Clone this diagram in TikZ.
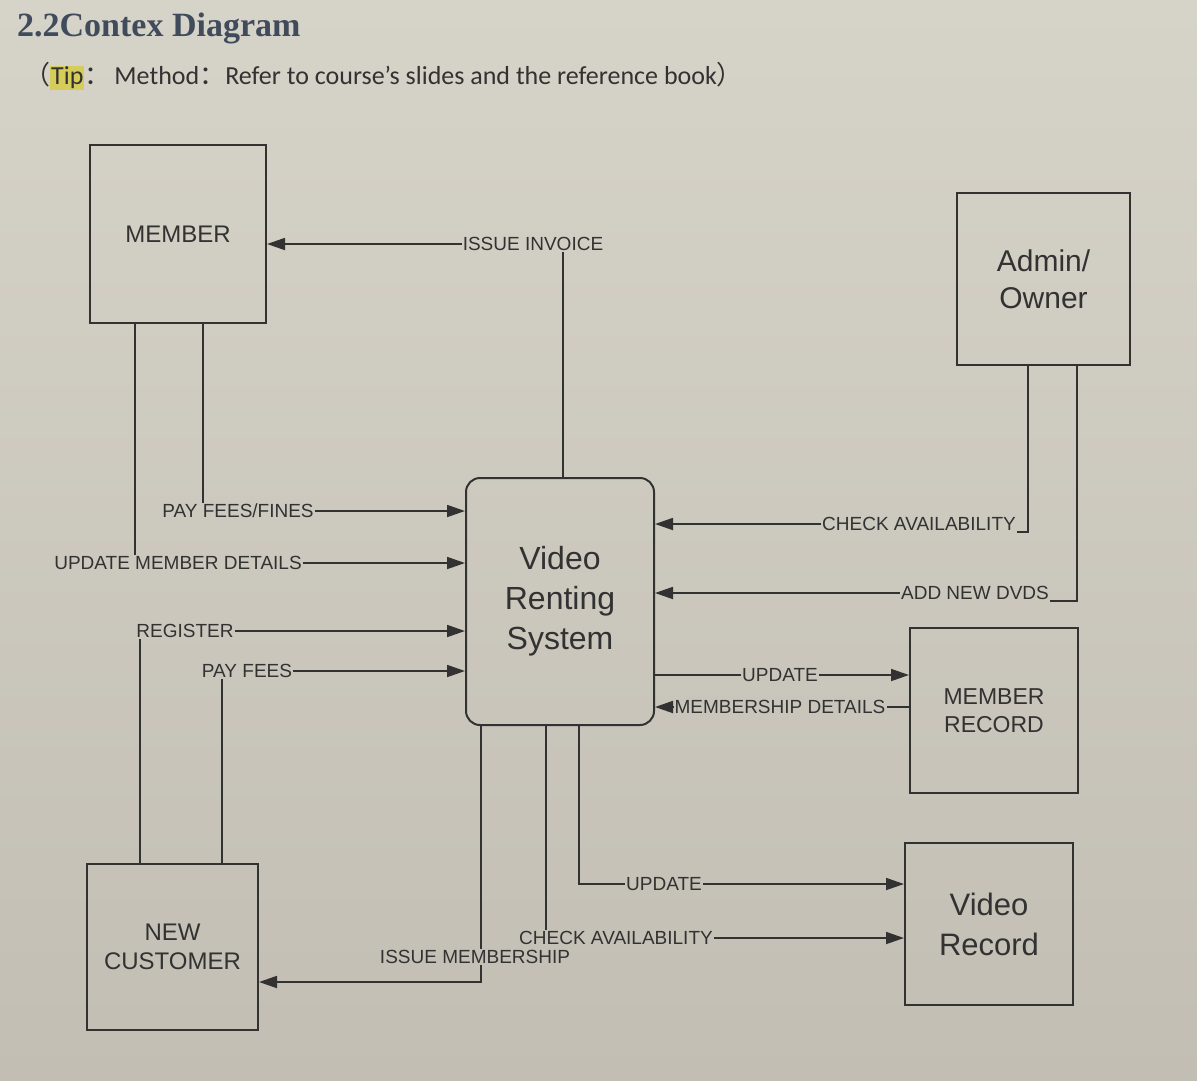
\documentclass[tikz,border=0pt]{standalone}
\usepackage{fontspec}
\setmainfont{Liberation Sans}
\newfontfamily\titlefont{Liberation Serif}
\newfontfamily\tipfont{Carlito}
\newfontfamily\cjk{Noto Sans CJK SC}
\usetikzlibrary{arrows.meta,calc}
\definecolor{bgtop}{RGB}{214,211,201}
\definecolor{bgbot}{RGB}{194,190,180}
\definecolor{ink}{RGB}{50,50,50}
\definecolor{titlecol}{RGB}{64,76,92}
\definecolor{hl}{RGB}{214,204,90}
\tikzset{
  ent/.style={draw=ink,line width=2pt,inner sep=0pt,align=center,text=ink},
  lbl/.style={inner sep=1pt,text=ink,font=\fontsize{19}{22}\selectfont},
  flow/.style={draw=ink,line width=1.8pt},
  arr/.style={flow,-{Triangle[length=18pt,width=12pt]}},
}
\begin{document}
\begin{tikzpicture}[x=1pt,y=-1pt]
\useasboundingbox (0,0) rectangle (1197,1080);
\shade[top color=bgtop,bottom color=bgbot] (0,0) rectangle (1197,1080);

% title
\node[anchor=west,inner sep=0pt,text=titlecol,font=\titlefont\bfseries\fontsize{34}{38}\selectfont] (title) at (17,28) {2.2Contex Diagram};
\node[anchor=west,inner sep=0pt,text=ink,font=\tipfont\fontsize{26}{31}\selectfont] (tip) at (24,76)
  {{\cjk （}\setlength{\fboxsep}{1pt}\colorbox{hl}{Tip}{\cjk ：}\hspace{4pt}Method{\cjk ：}Refer to course’s slides and the reference book{\cjk ）}};

% entities
\node[ent,minimum width=176pt,minimum height=178pt,font=\fontsize{24}{28}\selectfont] (member) at (178,234) {MEMBER};
\node[ent,minimum width=173pt,minimum height=172pt,font=\fontsize{30}{37}\selectfont] (admin) at (1043.5,279) {Admin/\\Owner};
\node[ent,rounded corners=14pt,minimum width=188pt,minimum height=247pt,font=\fontsize{32}{40}\selectfont] (vrs) at (560,601.5) {Video\\Renting\\System};
\node[ent,minimum width=168pt,minimum height=165pt,font=\fontsize{23}{28}\selectfont] (mrec) at (994,710.5) {MEMBER\\RECORD};
\node[ent,minimum width=168pt,minimum height=162pt,font=\fontsize{31}{40}\selectfont] (vrec) at (989,924) {Video\\Record};
\node[ent,minimum width=171pt,minimum height=166pt,font=\fontsize{24}{29}\selectfont] (ncust) at (172.5,947) {NEW\\CUSTOMER};

% labels
\node[lbl] (linv) at (533,244) {ISSUE INVOICE};
\node[lbl] (lpff) at (238,511) {PAY FEES/FINES};
\node[lbl] (lumd) at (178,563) {UPDATE MEMBER DETAILS};
\node[lbl] (lreg) at (185,631) {REGISTER};
\node[lbl] (lpf) at (247,671) {PAY FEES};
\node[lbl] (lca1) at (919,524) {CHECK AVAILABILITY};
\node[lbl] (land) at (975,593) {ADD NEW DVDS};
\node[lbl] (lup1) at (780,675) {UPDATE};
\node[lbl] (lmsd) at (780,707) {MEMBERSHIP DETAILS};
\node[lbl] (lup2) at (664,884) {UPDATE};
\node[lbl] (lca2) at (616,938) {CHECK AVAILABILITY};
\node[lbl] (lism) at (475,957) {ISSUE MEMBERSHIP};

% column coordinates
\coordinate (x1) at (563,0);
\coordinate (x2) at (203,0);
\coordinate (x3) at (135,0);
\coordinate (x4) at (140,0);
\coordinate (x5) at (222,0);
\coordinate (x6) at (1028,0);
\coordinate (x7) at (1077,0);
\coordinate (x10) at (579,0);
\coordinate (x11) at (546,0);
\coordinate (x12) at (481,0);
\coordinate (y12) at (0,982);

% ISSUE INVOICE
\draw[flow] (vrs.north -| x1) -- (x1 |- linv.south);
\draw[arr] (linv.west) -- (linv.west -| member.east);
% PAY FEES/FINES
\draw[flow] (member.south -| x2) -- (x2 |- lpff.north);
\draw[arr] (lpff.east) -- (lpff.east -| vrs.west);
% UPDATE MEMBER DETAILS
\draw[flow] (member.south -| x3) -- (x3 |- lumd.north);
\draw[arr] (lumd.east) -- (lumd.east -| vrs.west);
% REGISTER
\draw[flow] (ncust.north -| x4) -- (x4 |- lreg.south);
\draw[arr] (lreg.east) -- (lreg.east -| vrs.west);
% PAY FEES
\draw[flow] (ncust.north -| x5) -- (x5 |- lpf.south);
\draw[arr] (lpf.east) -- (lpf.east -| vrs.west);
% CHECK AVAILABILITY (admin)
\draw[flow] (admin.south -| x6) |- (lca1.south east);
\draw[arr] (lca1.west) -- (lca1.west -| vrs.east);
% ADD NEW DVDS
\draw[flow] (admin.south -| x7) |- (land.south east);
\draw[arr] (land.west) -- (land.west -| vrs.east);
% UPDATE -> member record
\draw[flow] (vrs.east |- lup1.west) -- (lup1.west);
\draw[arr] (lup1.east) -- (lup1.east -| mrec.west);
% MEMBERSHIP DETAILS
\draw[flow] (mrec.west |- lmsd.east) -- (lmsd.east);
\draw[arr] (lmsd.west) -- (lmsd.west -| vrs.east);
% UPDATE -> video record
\draw[flow] (vrs.south -| x10) |- (lup2.west);
\draw[arr] (lup2.east) -- (lup2.east -| vrec.west);
% CHECK AVAILABILITY -> video record
\draw[flow] (vrs.south -| x11) -- (x11 |- lca2.north);
\draw[arr] (lca2.east) -- (lca2.east -| vrec.west);
% ISSUE MEMBERSHIP
\draw[flow] (vrs.south -| x12) -- (x12 |- lism.north);
\draw[arr] (lism.south -| x12) -- (x12 |- y12) -- (y12 -| ncust.east);
\end{tikzpicture}
\end{document}
